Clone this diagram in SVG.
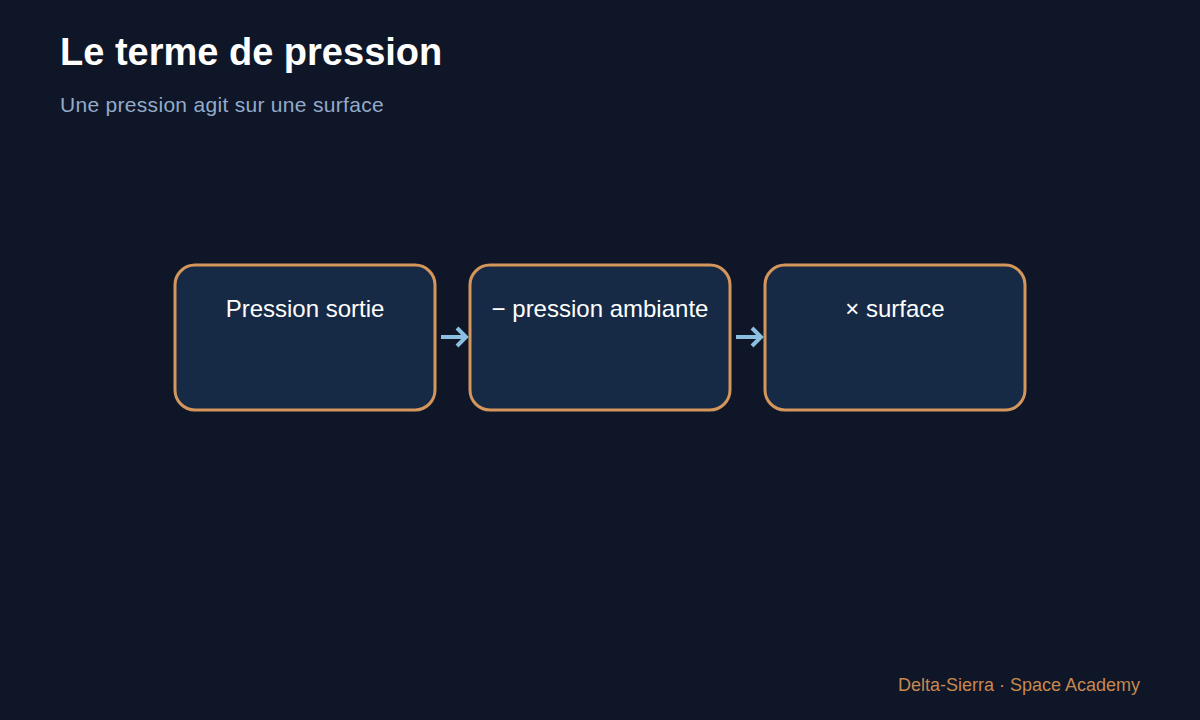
<svg xmlns="http://www.w3.org/2000/svg" width="1200" height="720" viewBox="0 0 1200 720">
<defs>
<style>
.box{fill:#172a45;stroke:#d4965a;stroke-width:3}
.lbl{font-family:"Liberation Sans",Arial,sans-serif;font-size:24px;fill:#ffffff;text-anchor:middle}
.conn{stroke:#8cc0e0;stroke-width:4;fill:none}
</style>
</defs>
<rect width="1200" height="720" fill="#0e1628"/>
<text x="60" y="65" font-family="Liberation Sans,Arial,sans-serif" font-size="38" font-weight="bold" fill="#ffffff">Le terme de pression</text>
<text x="60" y="112" font-family="Liberation Sans,Arial,sans-serif" font-size="21" letter-spacing="0.3" fill="#93abc8">Une pression agit sur une surface</text>
<g id="n1"><rect class="box" x="175" y="265" width="260" height="145" rx="20"/><text class="lbl" x="305" y="317">Pression sortie</text></g>
<g id="n2"><rect class="box" x="470" y="265" width="260" height="145" rx="20"/><text class="lbl" x="600" y="317">− pression ambiante</text></g>
<g id="n3"><rect class="box" x="765" y="265" width="260" height="145" rx="20"/><text class="lbl" x="895" y="317">× surface</text></g>
<g id="connectors">
<path class="conn" d="M441 337H466M457 328L466 337L457 346"/>
<path class="conn" d="M736 337H761M752 328L761 337L752 346"/>
</g>
<text x="1140" y="691" font-family="Liberation Sans,Arial,sans-serif" font-size="18" fill="#c8884f" text-anchor="end">Delta-Sierra · Space Academy</text>
</svg>
